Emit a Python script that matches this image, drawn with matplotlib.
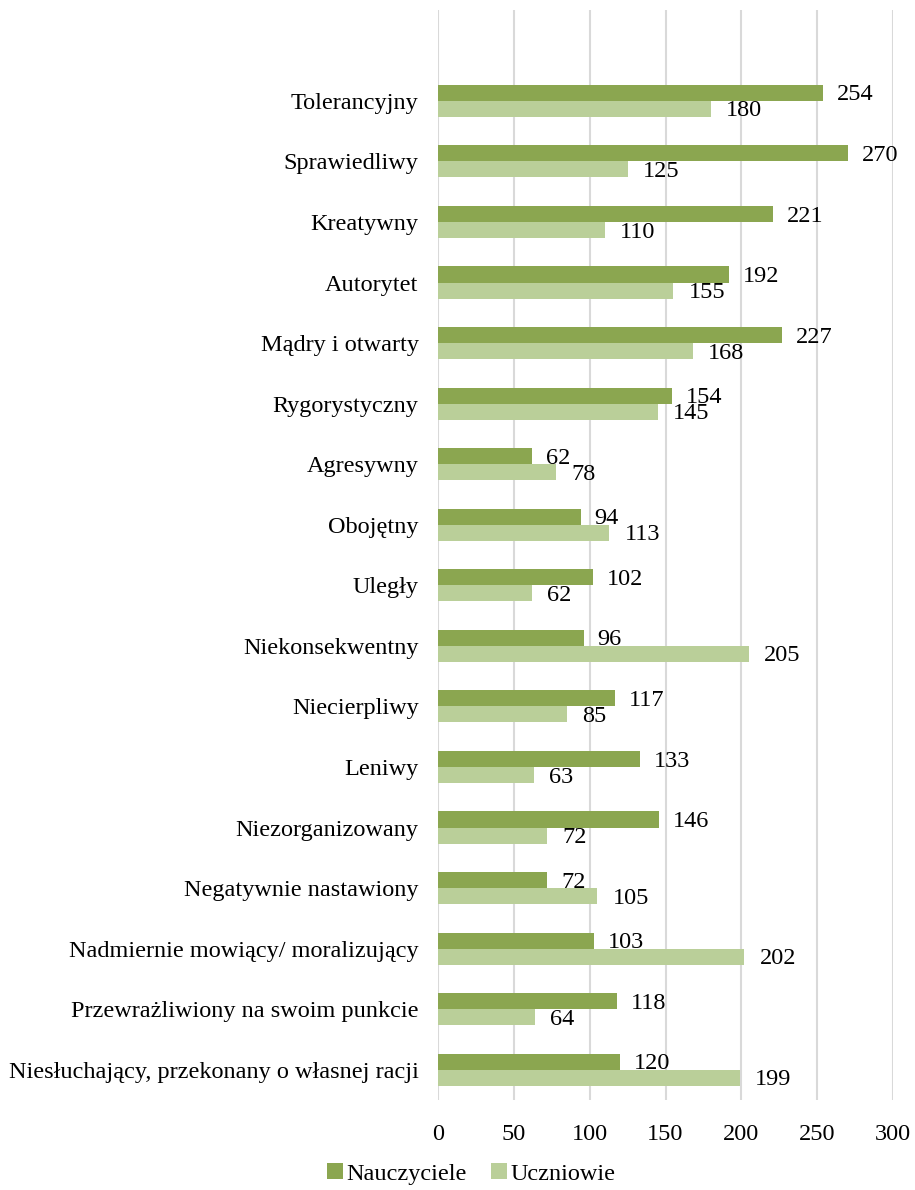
import matplotlib
matplotlib.use("Agg")
import matplotlib.pyplot as plt
import numpy as np

categories = ["Tolerancyjny", "Sprawiedliwy", "Kreatywny", "Autorytet", "Mądry i otwarty",
              "Rygorystyczny", "Agresywny", "Obojętny", "Uległy", "Niekonsekwentny",
              "Niecierpliwy", "Leniwy", "Niezorganizowany", "Negatywnie nastawiony",
              "Nadmiernie mowiący/ moralizujący", "Przewrażliwiony na swoim punkcie",
              "Niesłuchający, przekonany o własnej racji"]
nauczyciele = [254, 270, 221, 192, 227, 154, 62, 94, 102, 96, 117, 133, 146, 72, 103, 118, 120]
uczniowie = [180, 125, 110, 155, 168, 145, 78, 113, 62, 205, 85, 63, 72, 105, 202, 64, 199]
xticks = [0, 50, 100, 150, 200, 250, 300]

plt.rcParams['font.family'] = ['Liberation Serif', 'DejaVu Serif']
FS = 17.5

fig = plt.figure(figsize=(9.15, 11.9), dpi=100)
ax = fig.add_axes([438/915, 1 - 1100/1190, (893-438)/915, (1100-10)/1190])

dark = "#8BA650"
light = "#BACF99"
n = len(categories)
y = np.arange(n)
h = 0.265
ax.barh(y - h/2, nauczyciele, height=h, color=dark, label="Nauczyciele", zorder=3)
ax.barh(y + h/2, uczniowie, height=h, color=light, label="Uczniowie", zorder=3)

for yi, v in zip(y, nauczyciele):
    ax.annotate(str(v), (v, yi - h/2), xytext=(10, -1.5), textcoords="offset points",
                ha="left", va="center", fontsize=FS)
for yi, v in zip(y, uczniowie):
    ax.annotate(str(v), (v, yi + h/2), xytext=(11, -1.5), textcoords="offset points",
                ha="left", va="center", fontsize=FS)

ax.set_xlim(0, 300)
ax.set_ylim(n - 0.5, -1.5)
ax.set_yticks(y)
ax.set_yticklabels(categories, fontsize=FS)
ax.set_xticks(xticks)
ax.set_xticklabels([str(t) for t in xticks], fontsize=FS)
ax.tick_params(axis='both', length=0)
ax.tick_params(axis='x', pad=17)
ax.tick_params(axis='y', pad=14)
ax.grid(axis='x', color="#D9D9D9", linewidth=1.5, zorder=0)
for s in ax.spines.values():
    s.set_visible(False)

fig.legend(loc="lower center", bbox_to_anchor=(0.515, -0.014), ncol=2, frameon=False,
           fontsize=FS, handlelength=0.65, handleheight=0.65, handletextpad=0.15,
           columnspacing=1.0)

fig.savefig("out.png", dpi=100)
